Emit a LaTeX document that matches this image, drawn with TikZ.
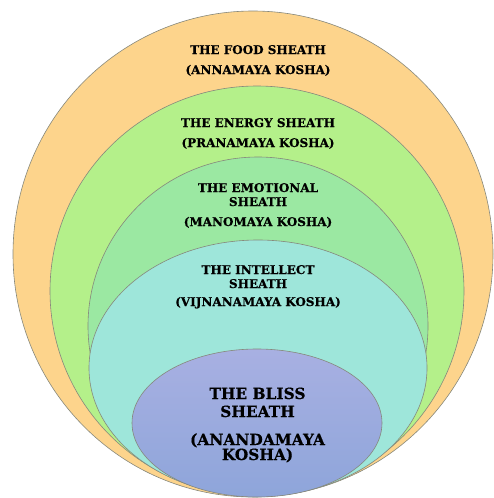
\documentclass[tikz,border=0pt]{standalone}
\usepackage{fontspec}
\setmainfont{DejaVu Serif}[BoldFeatures={FakeBold=0.5}]
\definecolor{foodfill}{HTML}{FDD48C}
\definecolor{energyfill}{HTML}{B4F08A}
\definecolor{emotionfill}{HTML}{9BE8A2}
\definecolor{intellectfill}{HTML}{9EE6DA}
\definecolor{blisstop}{HTML}{A8B0E2}
\definecolor{blissbottom}{HTML}{8EA5DA}
\definecolor{rimgray}{HTML}{86887C}
\begin{document}
\begin{tikzpicture}[x=1pt,y=-1pt,
  sheath/.style={draw=rimgray, line width=0.6pt},
  lbl/.style={anchor=base, inner sep=0pt, font=\bfseries\fontsize{12}{13}\selectfont},
  biglbl/.style={anchor=base, inner sep=0pt, font=\bfseries\fontsize{15.4}{16}\selectfont}]
  \useasboundingbox (0,0) rectangle (493,498);

  % nested sheaths, outermost first
  \path[sheath, fill=foodfill] (253,254) ellipse [x radius=240, y radius=243];
  \path[sheath, fill=energyfill] (257,291) ellipse [x radius=207, y radius=205];
  \path[sheath, fill=emotionfill] (258,326) ellipse [x radius=170, y radius=169];
  \path[sheath, fill=intellectfill] (258,368) ellipse [x radius=169, y radius=128];
  \path[sheath, top color=blisstop, bottom color=blissbottom] (257,423) ellipse [x radius=125, y radius=74];

  % labels
  \node[lbl] (food1) at (258,54) {THE FOOD SHEATH};
  \node[lbl] (food2) at (258,74) {(ANNAMAYA KOSHA)};
  \node[lbl] (energy1) at (258,127) {THE ENERGY SHEATH};
  \node[lbl] (energy2) at (258,147) {(PRANAMAYA KOSHA)};
  \node[lbl] (emotion1) at (258,192) {THE EMOTIONAL};
  \node[lbl] (emotion2) at (258,206) {SHEATH};
  \node[lbl] (emotion3) at (258,226) {(MANOMAYA KOSHA)};
  \node[lbl] (intellect1) at (258,274) {THE INTELLECT};
  \node[lbl] (intellect2) at (258,288) {SHEATH};
  \node[lbl] (intellect3) at (258,306) {(VIJNANAMAYA KOSHA)};
  \node[biglbl] (bliss1) at (257.5,399) {THE BLISS};
  \node[biglbl] (bliss2) at (257.5,417) {SHEATH};
  \node[biglbl] (bliss3) at (257.5,445) {(ANANDAMAYA};
  \node[biglbl] (bliss4) at (257.5,460) {KOSHA)};
\end{tikzpicture}
\end{document}
